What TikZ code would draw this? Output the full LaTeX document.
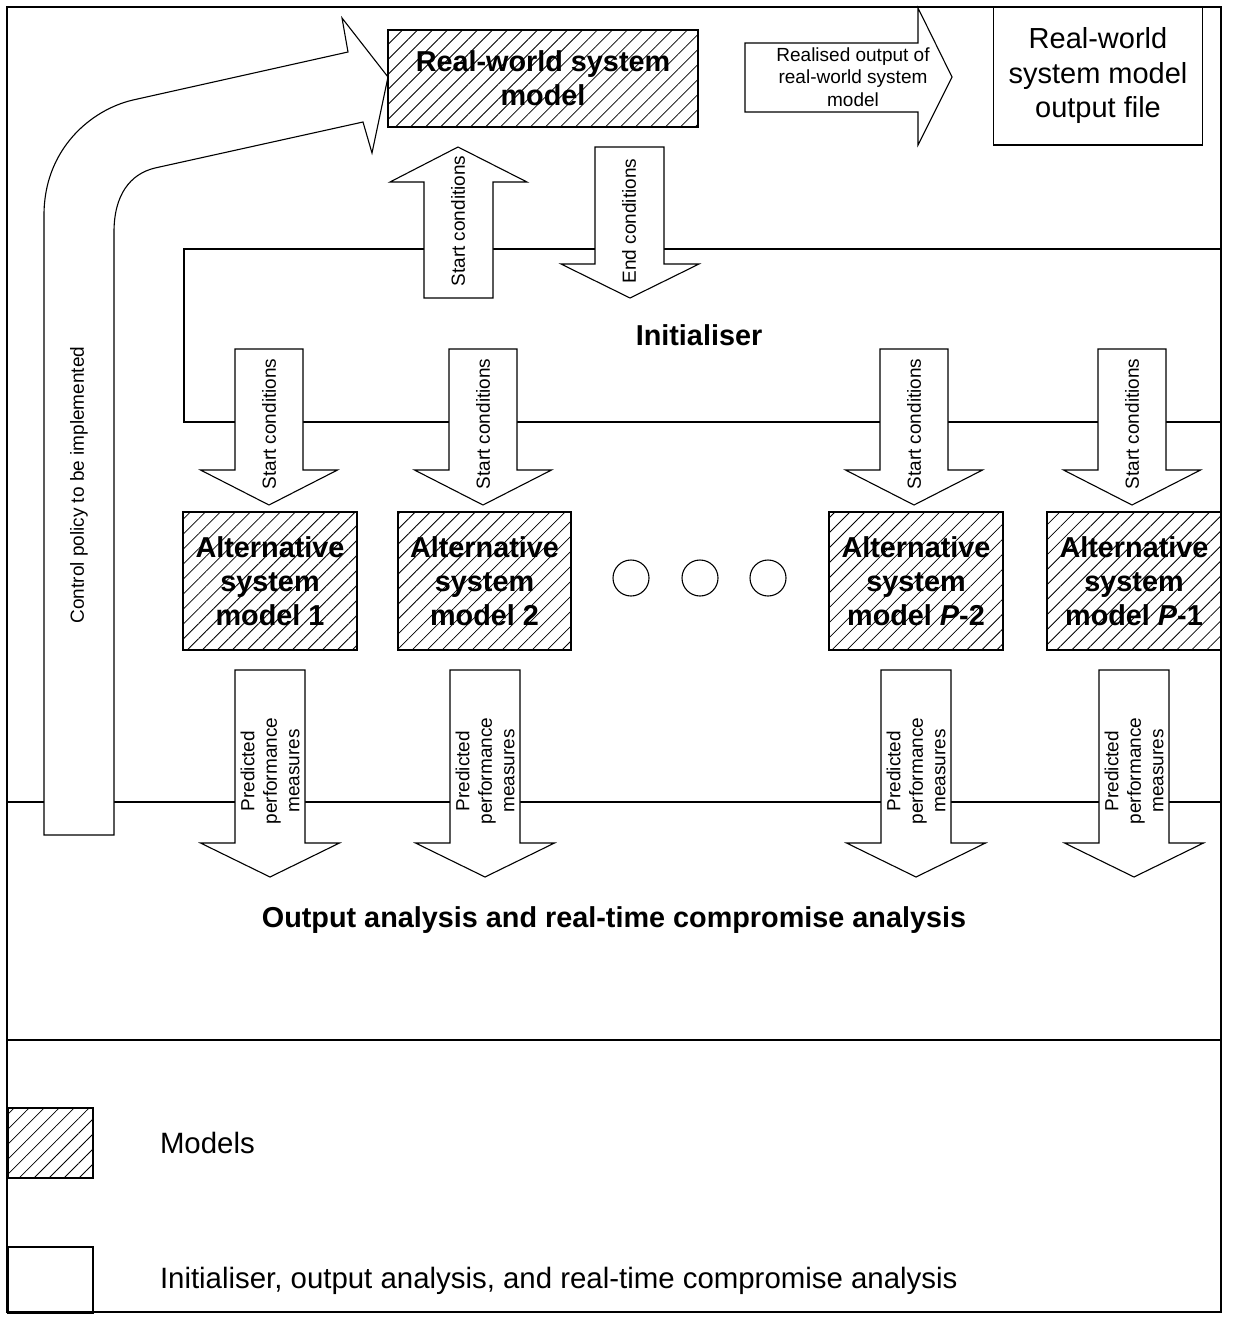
\documentclass[tikz,border=0pt]{standalone}
\usepackage{fontspec}
\setmainfont{Liberation Sans}
\usetikzlibrary{patterns.meta}
\tikzset{
  every node/.style={inner sep=0pt, outer sep=0pt},
  region/.style={draw, rectangle},
  hatched/.style={draw, rectangle, pattern={Lines[angle=45,distance=10.6pt,line width=0.8pt]}},
  plainbox/.style={draw, rectangle},
  blockarrow/.style={draw, fill=white, line join=miter},
  bigtext/.style={font=\fontsize{29}{34.5}\selectfont, align=center},
  bigbold/.style={font=\fontsize{28.8}{34}\selectfont\bfseries, align=center},
  smalltext/.style={font=\fontsize{19}{22.5}\selectfont, align=center},
  legendtext/.style={font=\fontsize{29.4}{34}\selectfont, anchor=west},
  dotcircle/.style={draw, circle, minimum size=36pt},
}
\begin{document}
\begin{tikzpicture}[x=1pt, y=-1pt, line width=1.1pt]
\useasboundingbox (0,0) rectangle (1232,1317);
% outer frame and legend separator
\draw[line width=1.5pt] (7,7) rectangle (1221,1312);
\draw (7,1040) -- (1221,1040);

% regions
\node[region, minimum width=1037pt, minimum height=173pt] (init) at (702.5,335.5) {};
\node[bigbold] (initlabel) at (699,335) {Initialiser};
\node[region, minimum width=1214pt, minimum height=238pt] (out) at (614,921) {};
\node[bigbold] (outlabel) at (614,920) {Output analysis and real-time compromise analysis};

% control policy curved arrow
\draw[blockarrow] (44,835) -- (44,215) .. controls (44,150) and (90,110) .. (133,100)
  -- (348,52) -- (342,18) -- (388,77) -- (372,153) -- (363,122) -- (155,168)
  .. controls (130,174) and (114,195) .. (114,232) -- (114,835) -- cycle;
\node[smalltext, rotate=90] (ctrl) at (79,485) {Control policy to be implemented};

% real-world system model
\node[hatched, bigbold, minimum width=310pt, minimum height=97pt] (rw) at (543,78.5) {Real-world system\\model};

% realised output arrow
\draw[blockarrow] (745,43) -- (918,43) -- (918,8) -- (952,77) -- (918,145) -- (918,112) -- (745,112) -- cycle;
\node[smalltext] (realised) at (853,77) {Realised output of\\real-world system\\model};

% output file box
\node[plainbox, bigtext, minimum width=209pt, minimum height=138pt] (file) at (1098,76) {Real-world\\system model\\output file};

% start conditions (up) and end conditions (down)
\draw[blockarrow] (424,298) -- (424,182) -- (390,182) -- (458,147) -- (527,182) -- (493,182) -- (493,298) -- cycle;
\node[smalltext, rotate=90] (upstart) at (458,221) {Start conditions};
\draw[blockarrow] (595,147) -- (664,147) -- (664,264) -- (699,264) -- (630,298) -- (561,264) -- (595,264) -- cycle;
\node[smalltext, rotate=90] (endc) at (629,221) {End conditions};

% start conditions to alternative models
\foreach \c/\n in {269/s1,483/s2,914/s3,1132/s4} {
  \draw[blockarrow] (\c-34,349) -- (\c+34,349) -- (\c+34,470) -- (\c+68.5,470) -- (\c,505) -- (\c-68.5,470) -- (\c-34,470) -- cycle;
  \node[smalltext, rotate=90] (\n) at (\c,424) {Start conditions};
}

% alternative system models
\node[hatched, bigbold, minimum width=174pt, minimum height=138pt] (alt1) at (270,581) {Alternative\\system\\model 1};
\node[hatched, bigbold, minimum width=173pt, minimum height=138pt] (alt2) at (484.5,581) {Alternative\\system\\model 2};
\node[hatched, bigbold, minimum width=174pt, minimum height=138pt] (alt3) at (916,581) {Alternative\\system\\model \textit{P}-2};
\node[hatched, bigbold, minimum width=174pt, minimum height=138pt] (alt4) at (1134,581) {Alternative\\system\\model \textit{P}-1};

% ellipsis circles
\node[dotcircle] (d1) at (631,578) {};
\node[dotcircle] (d2) at (700,578) {};
\node[dotcircle] (d3) at (768,578) {};

% predicted performance measures arrows
\foreach \c/\n in {270/p1,485/p2,916/p3,1134/p4} {
  \draw[blockarrow] (\c-35,670) -- (\c+35,670) -- (\c+35,843) -- (\c+69.5,843) -- (\c,877) -- (\c-69.5,843) -- (\c-35,843) -- cycle;
  \node[smalltext, rotate=90] (\n) at (\c,771) {Predicted\\performance\\measures};
}

% legend
\node[hatched, minimum width=85pt, minimum height=70pt] (leghatch) at (50.5,1143) {};
\node[legendtext] (legmodels) at (160,1143) {Models};
\node[plainbox, minimum width=85pt, minimum height=66pt] (legplain) at (50.5,1280) {};
\node[legendtext] (legother) at (160,1281) {Initialiser, output analysis, and real-time compromise analysis};
\end{tikzpicture}
\end{document}
